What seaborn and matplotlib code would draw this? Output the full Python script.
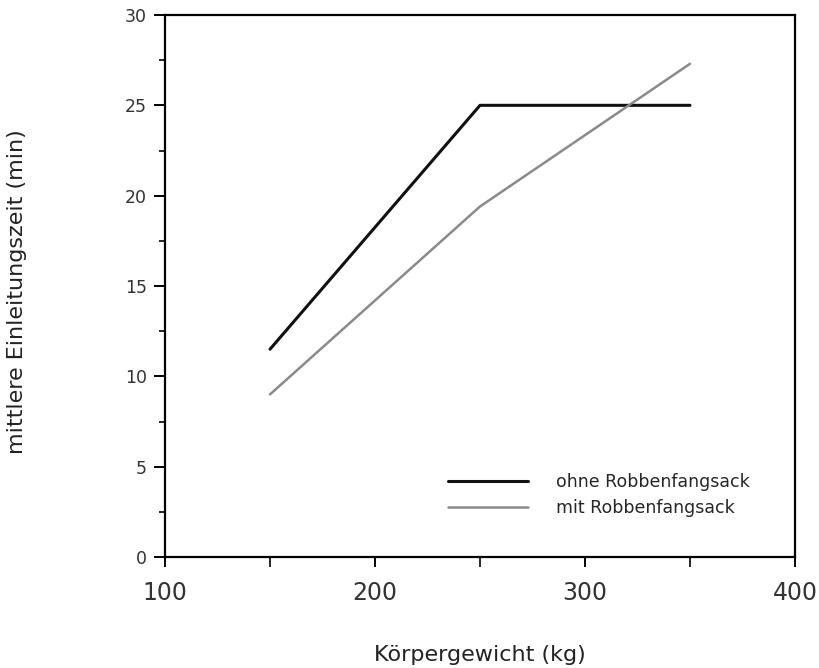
import numpy as np
import pandas as pd
import matplotlib
matplotlib.use("Agg")
import matplotlib.pyplot as plt
import seaborn as sns
from matplotlib.ticker import MultipleLocator

# Data
gewicht = [150, 250, 350]
ohne_sack = [11.5, 25.0, 25.0]
mit_sack = [9.0, 19.4, 27.3]

sns.set_theme(style="white")
plt.rcParams['font.family'] = ['DejaVu Sans']

df = pd.DataFrame({
    'gewicht': gewicht * 2,
    'zeit': ohne_sack + mit_sack,
    'gruppe': ['ohne Robbenfangsack'] * 3 + ['mit Robbenfangsack'] * 3,
})

W, H = 820, 668
left, right, top, bottom = 165, 795, 15, 557
fig = plt.figure(figsize=(8.2, 6.68), dpi=100)
ax = fig.add_axes([left / W, 1 - bottom / H, (right - left) / W, (bottom - top) / H])

sns.lineplot(data=df, x='gewicht', y='zeit', hue='gruppe', style='gruppe',
             palette={'ohne Robbenfangsack': '#111111', 'mit Robbenfangsack': '#8a8a8a'},
             dashes=False, ax=ax, legend=False)
ax.lines[0].set_linewidth(2.2)
ax.lines[1].set_linewidth(1.8)

ax.set_xlim(100, 400)
ax.set_ylim(0, 30)
ax.xaxis.set_major_locator(MultipleLocator(100))
ax.xaxis.set_minor_locator(MultipleLocator(50))
ax.yaxis.set_major_locator(MultipleLocator(5))
ax.yaxis.set_minor_locator(MultipleLocator(2.5))

for s in ax.spines.values():
    s.set_color('black')
    s.set_linewidth(1.6)

ax.tick_params(axis='x', which='major', direction='out', length=7, width=1.4,
               labelsize=17, pad=10, bottom=True, colors='black')
ax.tick_params(axis='x', which='minor', direction='out', length=7, width=1.4, bottom=True)
ax.tick_params(axis='y', which='major', direction='out', length=8, width=1.4,
               labelsize=12.5, pad=5, left=True, colors='black')
ax.tick_params(axis='y', which='minor', direction='out', length=4, width=1.4, left=True)
for lab in ax.get_xticklabels() + ax.get_yticklabels():
    lab.set_color('#333333')

ax.set_xlabel('Körpergewicht (kg)', fontsize=16, color='#222222')
ax.set_ylabel('mittlere Einleitungszeit (min)', fontsize=16, color='#222222')
ax.xaxis.set_label_coords(0.5, -(655 - bottom) / (bottom - top))
ax.yaxis.set_label_coords(-(left - 17) / (right - left), 0.49)
ax.xaxis.label.set_va('center')
ax.yaxis.label.set_va('center')

handles = ax.lines[:2]
ax.legend(handles, ['ohne Robbenfangsack', 'mit Robbenfangsack'],
          loc='upper left', bbox_to_anchor=(0.425, 0.184), frameon=False,
          fontsize=12.5, handlelength=4.6, handletextpad=1.6, labelspacing=0.45)

fig.savefig('out.png', dpi=100)
